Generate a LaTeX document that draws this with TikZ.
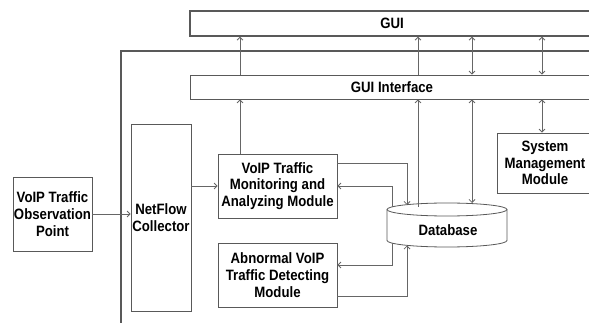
\documentclass[tikz,border=0pt]{standalone}
\usepackage{fontspec}
\setmainfont{Liberation Sans}[FakeStretch=0.88]
\usetikzlibrary{arrows.meta,calc}

\tikzset{
  box/.style={draw=black!65,line width=0.8pt,fill=white,inner sep=0pt,
    align=center,font=\fontsize{15}{16.7}\selectfont\bfseries},
  wire/.style={draw=black!60,line width=0.8pt},
  >={Straight Barb[length=3pt,width=6pt]}
}

\begin{document}
\begin{tikzpicture}[x=1pt,y=-1pt]
  \useasboundingbox (0,0) rectangle (589,323);
  \clip (0,0) rectangle (589,323);

  % outer frame of the system
  \draw[black!65,line width=1.3pt] (121,51) rectangle (610,340);

  \node[box,line width=1.3pt,minimum width=404,minimum height=25] (gui) at (392,23.5) {GUI};
  \node[box,minimum width=404,minimum height=24] (guiif) at (392,87) {GUI Interface};
  \node[box,minimum width=79,minimum height=74] (obs) at (52.5,214) {VoIP Traffic\\Observation\\Point};
  \node[box,minimum width=60,minimum height=187] (netflow) at (161,217.5) {NetFlow\\Collector};
  \node[box,minimum width=119,minimum height=64] (monitor) at (277.5,186) {VoIP Traffic\\Monitoring and\\Analyzing Module};
  \node[box,minimum width=119,minimum height=64] (abnormal) at (277.5,275) {Abnormal VoIP\\Traffic Detecting\\Module};
  \node[box,minimum width=96,minimum height=60] (sysmgmt) at (545,163) {System\\Management\\Module};

  % columns of the vertical links
  \coordinate (c1) at (240,0);
  \coordinate (c2) at (418,0);
  \coordinate (c3) at (472,0);
  \coordinate (c4) at (542,0);
  \coordinate (c5) at (392,0);
  \coordinate (c6) at (407,0);
  \coordinate (dbtop) at (0,205);
  \coordinate (dbbot) at (0,245.5);
  \coordinate (monout) at ($(monitor.east)+(0,-23)$);
  \coordinate (abin) at ($(abnormal.east)+(0,-10)$);
  \coordinate (about) at ($(abnormal.east)+(0,21)$);

  \draw[wire,->] (obs.east) -- (obs.east -| netflow.west);
  \draw[wire,->] (netflow.east |- monitor.west) -- (monitor.west);
  \draw[wire,->] (c1 |- monitor.north) -- (c1 |- guiif.south);
  \draw[wire,->] (c1 |- guiif.north) -- (c1 |- gui.south);
  \draw[wire,->] (c2 |- guiif.north) -- (c2 |- gui.south);
  \draw[wire,<->] (c3 |- guiif.north) -- (c3 |- gui.south);
  \draw[wire,<->] (c4 |- guiif.north) -- (c4 |- gui.south);
  \draw[wire,<->] (c4 |- sysmgmt.north) -- (c4 |- guiif.south);

  % database and its links
  \draw[wire,<->] (monitor.east) -| (c5 |- abin) -- (abin);
  \draw[wire,->] (monout) -| (c6 |- dbtop);
  \draw[wire,->] (about) -| (c6 |- dbbot);

  \draw[black!65,line width=0.8pt,fill=white] (387,209.5) -- (387,240.5)
    arc[start angle=180,end angle=0,x radius=60,y radius=6.5] -- (507,209.5)
    arc[start angle=0,end angle=-180,x radius=60,y radius=6.5] -- cycle;
  \draw[black!65,line width=0.8pt] (387,209.5) arc[start angle=180,end angle=0,x radius=60,y radius=6.5];
  \node[inner sep=0pt,font=\fontsize{15}{16.7}\selectfont\bfseries] (db) at (448,230) {Database};

  \draw[wire,->] (c2 |- 0,207) -- (c2 |- guiif.south);
  \draw[wire,<->] (c3 |- 0,203) -- (c3 |- guiif.south);
\end{tikzpicture}
\end{document}
